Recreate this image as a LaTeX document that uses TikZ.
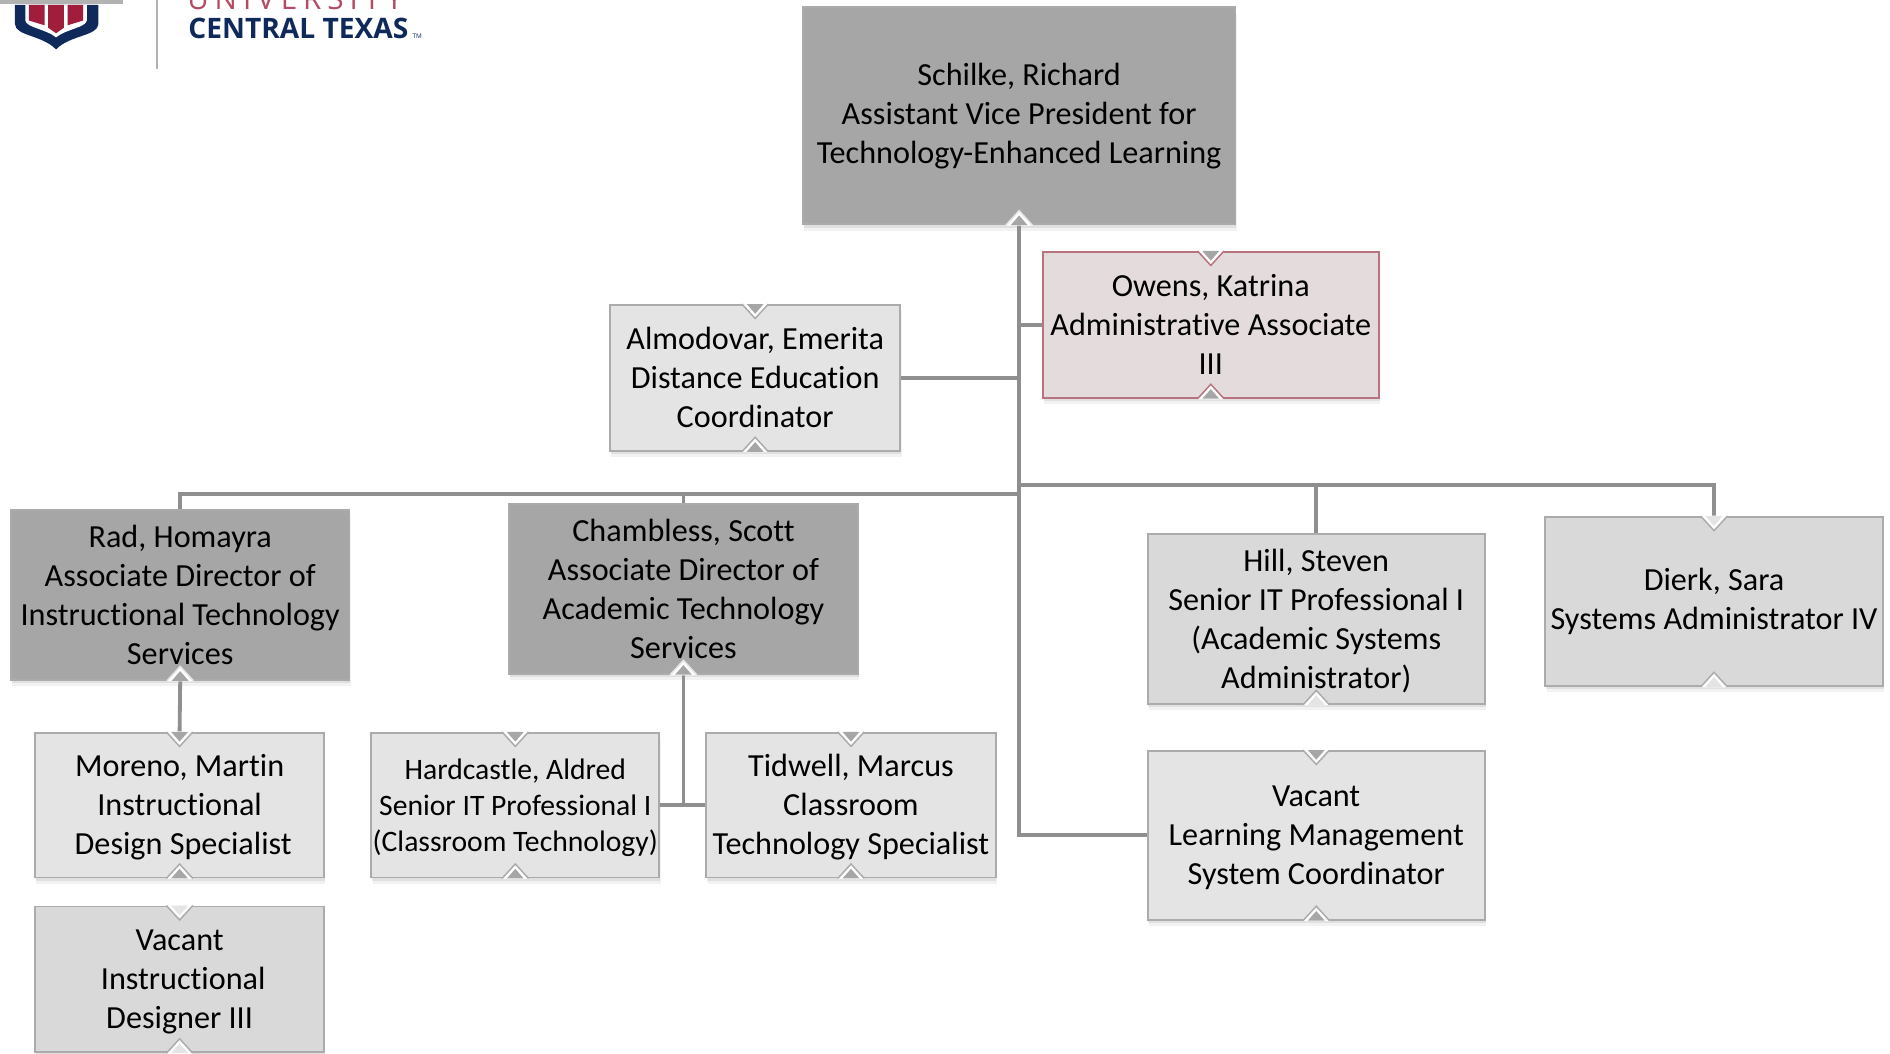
\documentclass[tikz,border=0pt]{standalone}
\usepackage{fontspec}
\setmainfont[Ligatures=NoCommon]{Carlito}
\newfontfamily\logofont{Open Sans}
\newfontfamily\logospaced[LetterSpace=20]{Open Sans}
\usetikzlibrary{calc,shadows}

\definecolor{darkbox}{HTML}{A6A6A6}
\definecolor{midbox}{HTML}{D9D9D9}
\definecolor{lightbox}{HTML}{E4E4E4}
\definecolor{rosebox}{HTML}{E4DCDC}
\definecolor{boxline}{HTML}{ABABAB}
\definecolor{roseline}{HTML}{B8737F}
\definecolor{linkgray}{HTML}{8F8F8F}
\definecolor{navy}{HTML}{0F2A5A}
\definecolor{crimson}{HTML}{A01E3C}

\newcommand{\lowfirst}{\rule{0pt}{12.4pt}}

\tikzset{
  box/.style={draw=boxline,line width=0.9pt,inner sep=0pt,align=center,
    font=\fontsize{15.2}{18.4}\selectfont,
    drop shadow={shadow xshift=0.6pt,shadow yshift=-3pt,opacity=0.10},
    drop shadow={shadow xshift=0.4pt,shadow yshift=-1.6pt,opacity=0.16}},
  link/.style={draw=linkgray,line width=1.8pt}
}

\begin{document}
\begin{tikzpicture}[x=0.02cm,y=-0.02cm]

  \useasboundingbox (0,0) rectangle (1568,873.6);

  % logo
  \begin{scope}
    \fill[navy] (12.4,4)--(81.6,4)--(81.6,20) .. controls (81,30) and (58,29) .. (46.5,41)
      .. controls (35,29) and (13,30) .. (12.4,20)--cycle;
    \fill[white] (21,4)--(72,4)--(72,17) .. controls (71,23) and (55,24) .. (46.5,31)
      .. controls (38,24) and (22,23) .. (21,17)--cycle;
    \fill[crimson] (24,4)--(37,4)--(37,21)--(24,17)--cycle;
    \fill[crimson] (40,4)--(53,4)--(53,23)--(46.5,27.6)--(40,23)--cycle;
    \fill[crimson] (56,4)--(69,4)--(69,17)--(56,21)--cycle;
    \fill[black!30] (0,0) rectangle (102,3);
    \draw[black!30,line width=0.9pt] (130,0)--(130,57);
    \node[anchor=base west,inner sep=0pt,text=crimson!80,font=\logospaced\fontsize{14}{16}\selectfont]
      (uni) at (155,8) {UNIVERSITY};
    \node[anchor=base west,inner sep=0pt,text=navy,font=\logofont\fontsize{13.3}{16}\selectfont\bfseries]
      (ctx) at (156,32) {CENTRAL TEXAS};
    \node[anchor=base west,inner sep=0pt,text=navy,font=\logofont\fontsize{3}{4}\selectfont]
      (tm) at (342,32) {TM};
  \end{scope}

  % boxes
  \node[box,fill=darkbox,minimum width=7.18cm,minimum height=3.6cm] (schilke) at (845.5,96)
    {Schilke, Richard\\Assistant Vice President for\\Technology-Enhanced Learning};
  \node[box,fill=rosebox,draw=roseline,minimum width=5.58cm,minimum height=2.42cm] (owens) at (1004.5,269.5)
    {Owens, Katrina\\Administrative Associate\\III};
  \node[box,fill=lightbox,minimum width=4.82cm,minimum height=2.42cm] (almodovar) at (626.5,313.5)
    {Almodovar, Emerita\\Distance Education\\Coordinator};
  \node[box,fill=darkbox,minimum width=5.62cm,minimum height=2.82cm] (rad) at (149.5,493.5)
    {Rad, Homayra\\Associate Director of\\Instructional Technology\\Services};
  \node[box,fill=darkbox,minimum width=5.80cm,minimum height=2.82cm] (chambless) at (567,488.5)
    {Chambless, Scott\\Associate Director of\\Academic Technology\\Services};
  \node[box,fill=midbox,minimum width=5.60cm,minimum height=2.82cm] (hill) at (1092,513.5)
    {\lowfirst Hill, Steven\\Senior IT Professional I\\(Academic Systems\\Administrator)};
  \node[box,fill=midbox,minimum width=5.60cm,minimum height=2.80cm] (dierk) at (1422,499)
    {Dierk, Sara\\Systems Administrator IV};
  \node[box,fill=lightbox,minimum width=4.80cm,minimum height=2.40cm] (moreno) at (149,668)
    {\lowfirst Moreno, Martin\\Instructional\\\hspace*{0.12cm}Design Specialist};
  \node[box,fill=midbox,minimum width=4.80cm,minimum height=2.42cm] (vacantid) at (149,812.5)
    {\lowfirst Vacant\\\hspace*{0.12cm}Instructional\\Designer III};
  \node[box,fill=lightbox,minimum width=4.78cm,minimum height=2.40cm,
        font=\fontsize{14}{16.9}\selectfont] (hardcastle) at (427.5,668)
    {\lowfirst Hardcastle, Aldred\\Senior IT Professional I\\(Classroom Technology)};
  \node[box,fill=lightbox,minimum width=4.80cm,minimum height=2.40cm] (tidwell) at (706,668)
    {\lowfirst Tidwell, Marcus\\Classroom\\Technology Specialist};
  \node[box,fill=lightbox,minimum width=5.60cm,minimum height=2.80cm] (lms) at (1092,693)
    {\lowfirst Vacant\\Learning Management\\System Coordinator};

  % spoje
  \coordinate (busL) at (845.5,410);
  \coordinate (busR) at (845.5,402.5);
  \coordinate (forkC) at (567,668);

  \draw[link] (schilke.south) |- (lms.west);
  \draw[link] (schilke.south |- owens.west)--(owens.west);
  \draw[link] (almodovar.east)--(schilke.south |- almodovar.east);
  \draw[link] (busL) -| (rad.north);
  \draw[link] (busL) -| (chambless.north);
  \draw[link] (busR) -| (hill.north);
  \draw[link] (busR) -| (dierk.north);
  \draw[link] (rad.south)--(moreno.north);
  \draw[link] (chambless.south)--(forkC);
  \draw[link] (hardcastle.east)--(tidwell.west);

  % zarezy nahore
  \foreach \n/\c/\i in {owens/roseline/darkbox,almodovar/boxline/darkbox,moreno/boxline/darkbox,
      vacantid/boxline/lightbox,hardcastle/boxline/darkbox,tidwell/boxline/darkbox,
      lms/boxline/darkbox,dierk/boxline/lightbox}
  {
    \fill[white] ($(\n.north)+(-11,-0.5)$)--($(\n.north)+(0,12)$)--($(\n.north)+(11,-0.5)$)--cycle;
    \draw[\c,line width=0.7pt] ($(\n.north)+(-11,0)$)--($(\n.north)+(0,12)$)--($(\n.north)+(11,0)$);
    \fill[\i] ($(\n.north)+(-7,0)$)--($(\n.north)+(0,8)$)--($(\n.north)+(7,0)$)--cycle;
  }

  % zarezy dole
  \foreach \n/\c/\i in {schilke/lightbox/darkbox,owens/roseline/darkbox,almodovar/boxline/darkbox,
      rad/lightbox/darkbox,chambless/lightbox/darkbox,hill/boxline/lightbox,dierk/boxline/lightbox,
      moreno/boxline/darkbox,vacantid/boxline/lightbox,hardcastle/boxline/darkbox,
      tidwell/boxline/darkbox,lms/boxline/darkbox}
  {
    \fill[white] ($(\n.south)+(-11,0.5)$)--($(\n.south)+(0,-12)$)--($(\n.south)+(11,0.5)$)--cycle;
    \draw[\c,line width=0.7pt] ($(\n.south)+(-11,0)$)--($(\n.south)+(0,-12)$)--($(\n.south)+(11,0)$);
    \fill[\i] ($(\n.south)+(-7,0)$)--($(\n.south)+(0,-8)$)--($(\n.south)+(7,0)$)--cycle;
  }

\end{tikzpicture}
\end{document}
